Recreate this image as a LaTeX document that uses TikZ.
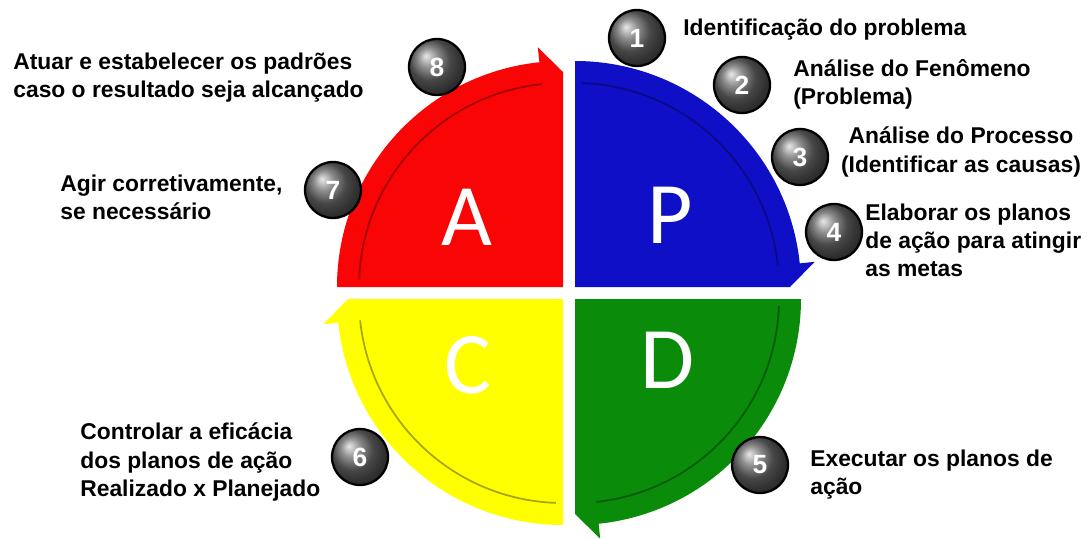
\documentclass[tikz,border=0pt]{standalone}
\usepackage{fontspec}
\setmainfont{Liberation Sans}
\newfontfamily\letterfont{Carlito}
\usepackage{tikz}

\definecolor{redq}{RGB}{250,5,5}
\definecolor{blueq}{RGB}{15,15,200}
\definecolor{greenq}{RGB}{10,140,10}
\definecolor{yellowq}{RGB}{255,255,0}

\begin{document}
\begin{tikzpicture}[x=0.02cm, y=0.02cm,
    lbl/.style={font=\fontsize{13}{16}\selectfont\bfseries, text=black, inner sep=0pt, align=left, anchor=west},
    ball/.style={circle, draw=black, line width=1.3pt, ball color=black!60, minimum size=1.12cm, inner sep=0pt,
        text=white, font=\fontsize{15}{15}\selectfont\bfseries},
    letter/.style={text=white, font=\letterfont\fontsize{50}{50}\selectfont}]
    \useasboundingbox (0,0) rectangle (1091,538);

    \foreach \dx/\dy/\a/\col in {-6/6/180/redq, 6/6/90/blueq, 6/-6/0/greenq, -6/-6/-90/yellowq}{
        \begin{scope}[shift={(569+\dx,245+\dy)}]
            \fill[\col] (0,0) -- (\a-90:215) -- (\a-84:241) -- (\a-84:226)
                arc[start angle=\a-84, end angle=\a, radius=226] -- cycle;
            \draw[\col!65!black, line width=1pt] (\a-84:204) arc[start angle=\a-84, end angle=\a-2, radius=204];
        \end{scope}
    }

    \node[letter] (la) at (467,321) {A};
    \node[letter] (lp) at (670,323) {P};
    \node[letter] (lc) at (468,173) {C};
    \node[letter] (ld) at (668,178) {D};

    \node[ball] (b1) at (637,500) {1};
    \node[ball] (b2) at (742,453) {2};
    \node[ball] (b3) at (800,381) {3};
    \node[ball] (b4) at (834,306) {4};
    \node[ball] (b5) at (760,73) {5};
    \node[ball] (b6) at (360,81) {6};
    \node[ball] (b7) at (333,348) {7};
    \node[ball] (b8) at (437,471) {8};

    \node[lbl] (t1) at (683,508) {Identificação do problema};
    \node[lbl] (t2) at (793,454) {Análise do Fenômeno\\(Problema)};
    \node[lbl, align=center, anchor=center] (t3) at (961,386) {Análise do Processo\\(Identificar as causas)};
    \node[lbl] (t4) at (865,298) {Elaborar os planos\\de ação para atingir\\as metas};
    \node[lbl] (t5) at (810,63) {Executar os planos de\\ação};
    \node[lbl] (t6) at (80,76) {Controlar a eficácia\\dos planos de ação\\Realizado x Planejado};
    \node[lbl] (t7) at (60,341) {Agir corretivamente,\\se necessário};
    \node[lbl] (t8) at (13,460) {Atuar e estabelecer os padrões\\caso o resultado seja alcançado};
\end{tikzpicture}
\end{document}
